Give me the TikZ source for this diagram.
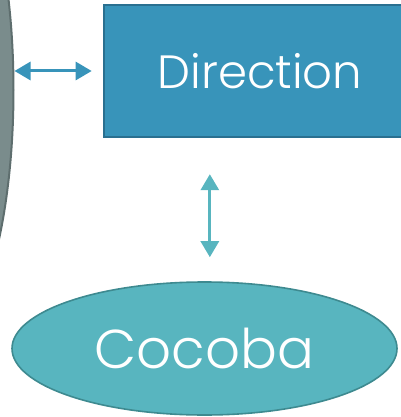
\documentclass[tikz,border=0pt]{standalone}
\usepackage{fontspec}
\setmainfont{Poppins}[UprightFont=* Light]
\usetikzlibrary{arrows.meta,shapes.geometric}
\definecolor{dirblue}{HTML}{3894BA}
\definecolor{dirline}{HTML}{2A7090}
\definecolor{cocteal}{HTML}{58B5BF}
\definecolor{cocline}{HTML}{3E8A90}
\definecolor{sidegrey}{HTML}{7A8C8C}
\definecolor{sideline}{HTML}{5E6E6E}
\begin{document}
\begin{tikzpicture}[x=0.75pt,y=-0.75pt,
  hlink/.style={draw=dirblue,line width=2.25pt,{Triangle[length=12pt,width=13.5pt]}-{Triangle[length=12pt,width=13.5pt]}},
  vlink/.style={draw=cocteal,line width=2.25pt,{Triangle[length=12pt,width=13.5pt]}-{Triangle[length=12pt,width=13.5pt]}}]
\useasboundingbox (0,0) rectangle (400,417);
\node[ellipse,draw=sideline,line width=1.5pt,fill=sidegrey,minimum width=120pt,minimum height=390pt] (side) at (-66.5,90) {};
\node[rectangle,draw=dirline,line width=1.5pt,fill=dirblue,minimum width=234pt,minimum height=99pt,
  text=white,font=\fontsize{35}{42}\selectfont] (dir) at (260,71) {Direction};
\node[ellipse,draw=cocline,line width=1.2pt,fill=cocteal,inner sep=0pt,minimum width=288.75pt,minimum height=99.75pt,
  text=white,font=\fontsize{41}{48}\selectfont] (cocoba) at (204.5,348.5) {Cocoba};
% links
\draw[hlink] (side.east |- dir.west) -- ([xshift=-8.5pt]dir.west);
\draw[vlink] ([xshift=4pt,yshift=18pt]cocoba.north) -- ([xshift=4pt,yshift=80.25pt]cocoba.north);
\end{tikzpicture}
\end{document}
